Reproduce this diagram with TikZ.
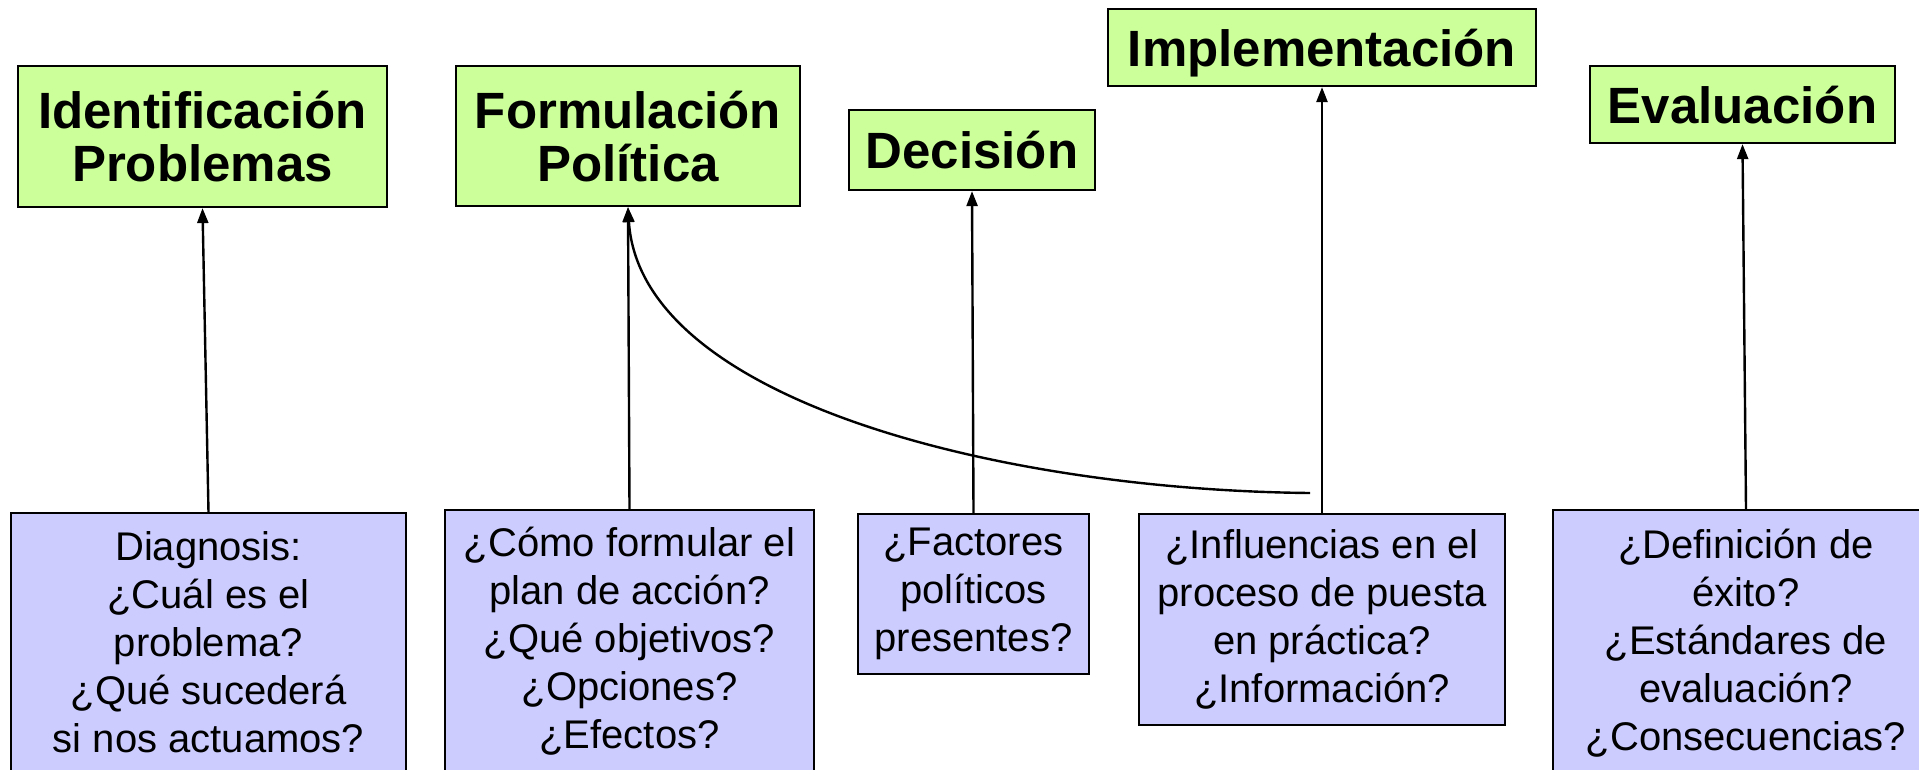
\documentclass[tikz,border=0pt]{standalone}
\usepackage{fontspec}
\setmainfont{Liberation Sans}
\usetikzlibrary{arrows.meta}
\definecolor{stagegreen}{RGB}{204,255,153}
\definecolor{qpurple}{RGB}{204,204,255}
\begin{document}
\begin{tikzpicture}[x=1pt,y=-1pt,
  stagebox/.style={draw=black, line width=2.2pt, fill=stagegreen, inner sep=0pt, align=center, text depth=0pt, font=\fontsize{51}{53}\selectfont\bfseries},
  qbox/.style={draw=black, line width=1.6pt, fill=qpurple, inner sep=0pt, align=center, font=\fontsize{40}{48}\selectfont},
  arr/.style={line width=2.4pt, -{Triangle[length=15pt,width=11pt]}},
]
\useasboundingbox (0,0) rectangle (1919,769);
\clip (0,0) rectangle (1919,769);
\fill[white] (0,0) rectangle (1919,769);

% stage boxes
\node[stagebox, minimum width=369pt, minimum height=141pt] (g1) at (202.5,136.5) {Identificación\\Problemas};
\node[stagebox, minimum width=344pt, minimum height=140pt] (g2) at (628,136) {Formulación\\Política};
\node[stagebox, minimum width=246pt, minimum height=80pt] (g3) at (972,150) {Decisión};
\node[stagebox, minimum width=428pt, minimum height=77pt] (g4) at (1322,47.5) {Implementación};
\node[stagebox, minimum width=305pt, minimum height=77pt] (g5) at (1742.5,104.5) {Evaluación};

% question boxes
\node[qbox, minimum width=395pt, minimum height=258pt] (p1) at (208.5,642) {Diagnosis:\\¿Cuál es el\\problema?\\¿Qué sucederá\\si nos actuamos?};
\node[qbox, minimum width=369pt, minimum height=262pt] (p2) at (629.5,641) {¿Cómo formular el\\plan de acción?\\¿Qué objetivos?\\¿Opciones?\\¿Efectos?};
\node[qbox, minimum width=231pt, minimum height=160pt] (p3) at (973.5,594) {¿Factores\\políticos\\presentes?};
\node[qbox, minimum width=366pt, minimum height=211pt] (p4) at (1322,619.5) {¿Influencias en el\\proceso de puesta\\en práctica?\\¿Información?};
\node[qbox, minimum width=386pt, minimum height=266pt] (p5) at (1746,643) {¿Definición de\\éxito?\\¿Estándares de\\evaluación?\\¿Consecuencias?};

% connectors
\draw[arr] (p1.north) -- (g1.south);
\draw[arr] (p2.north) -- (g2.south);
\draw[arr] (p3.north) -- (g3.south);
\draw[arr] (p4.north) -- (g4.south);
\draw[arr] (p5.north) -- (g5.south);
\coordinate (cstart) at (1310,493);
\draw[arr] (cstart) .. controls (1000,490) and (640,400) .. (g2.south);
\end{tikzpicture}
\end{document}
